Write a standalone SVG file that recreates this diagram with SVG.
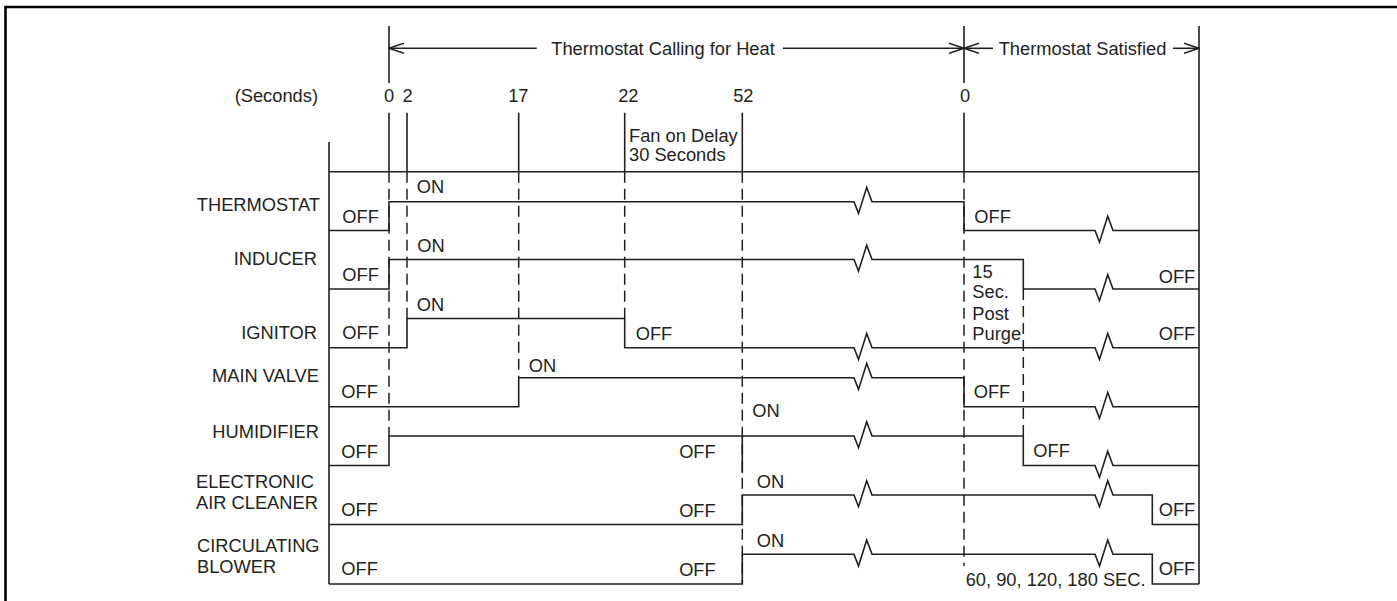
<svg xmlns="http://www.w3.org/2000/svg" width="1397" height="601" viewBox="0 0 1397 601">
<style>
text{font-family:"Liberation Sans",Arial,sans-serif;font-size:18.3px;fill:#231f20}
.e{text-anchor:end}.m{text-anchor:middle}
.w{fill:none;stroke:#231f20;stroke-width:1.6;stroke-linejoin:miter}
.s{stroke:#231f20;stroke-width:1.6;fill:none}
.d{stroke:#231f20;stroke-width:1.5;fill:none;stroke-dasharray:11 6}
</style>
<defs>
<marker id="arr" markerUnits="userSpaceOnUse" markerWidth="16" markerHeight="12" refX="15" refY="6" orient="auto">
<path d="M0,1 L15,6 L0,11" fill="none" stroke="#231f20" stroke-width="1.5"/>
</marker>
</defs>
<rect width="1397" height="601" fill="#fff"/>
<path d="M5.5,601 V7 H1397" fill="none" stroke="#000" stroke-width="2.6"/>

<g id="axes">
<path class="s" d="M329,142 V584 M329,171.7 H1199 M1199,26 V584"/>
<text class="e" x="318" y="101.5">(Seconds)</text>
<text class="m" x="389" y="101.5">0</text>
<text class="m" x="407.5" y="101.5">2</text>
<text class="m" x="518.3" y="101.5">17</text>
<text class="m" x="628.3" y="101.5">22</text>
<text class="m" x="743.3" y="101.5">52</text>
<text class="m" x="965" y="101.5">0</text>
<text x="629" y="141.7">Fan on Delay</text>
<text x="629" y="160.7">30 Seconds</text>
</g>

<g id="time-markers">
<path class="s" d="M389,26 V83 M389,112.7 V171.7 M407,112.7 V171.7 M518.7,112.7 V171.7 M624.7,112.7 V171.7 M742.3,112.7 V171.7 M964,26 V83 M964,112.7 V171.7 M742.3,436 V473"/>
<path class="d" d="M389,171.7 V436 M407,171.7 V318.5 M518.7,171.7 V377.7 M624.7,171.7 V318.5 M742.3,171.7 V584 M964,171.7 V566 M1023.3,289 V436"/>
</g>

<g id="connectors">
<line class="s" x1="536.7" y1="48.3" x2="389" y2="48.3" marker-end="url(#arr)"/>
<line class="s" x1="783" y1="48.3" x2="964" y2="48.3" marker-end="url(#arr)"/>
<line class="s" x1="993" y1="48.3" x2="964" y2="48.3" marker-end="url(#arr)"/>
<line class="s" x1="1173" y1="48.3" x2="1199" y2="48.3" marker-end="url(#arr)"/>
<text class="m" x="663" y="55">Thermostat Calling for Heat</text>
<text class="m" x="1082.5" y="55">Thermostat Satisfied</text>
</g>

<g id="thermostat">
<text class="e" x="320" y="211">THERMOSTAT</text>
<path class="w" d="M329,230.5 H389 V201.7 H854 l4.5,11.7 l8.2,-26 l5.3,14.3 H964 V230.5 H1095 l4.5,11.7 l8.2,-26 l5.3,14.3 H1199"/>
<text x="342.3" y="222.7">OFF</text>
<text x="416.7" y="193.3">ON</text>
<text x="974.3" y="222.7">OFF</text>
</g>

<g id="inducer">
<text class="e" x="317" y="265.3">INDUCER</text>
<path class="w" d="M329,289 H389 V259.5 H854 l4.5,11.7 l8.2,-26 l5.3,14.3 H1023.3 V289 H1095 l4.5,11.7 l8.2,-26 l5.3,14.3 H1199"/>
<text x="342.3" y="280.7">OFF</text>
<text x="417.3" y="251.7">ON</text>
<text class="e" x="1195.3" y="282.7">OFF</text>
<text x="972.3" y="277.7">15</text>
<text x="972.3" y="298.3">Sec.</text>
<text x="972.3" y="319.5">Post</text>
<text x="972.3" y="340">Purge</text>
</g>

<g id="ignitor">
<text class="e" x="317" y="339.3">IGNITOR</text>
<path class="w" d="M329,347.7 H407 V318.5 H624.7 V347.7 H854 l4.5,11.7 l8.2,-26 l5.3,14.3 H1095 l4.5,11.7 l8.2,-26 l5.3,14.3 H1199"/>
<text x="342.3" y="339.3">OFF</text>
<text x="416.7" y="311">ON</text>
<text x="635.7" y="340">OFF</text>
<text class="e" x="1195.3" y="340">OFF</text>
</g>

<g id="main-valve">
<text class="e" x="319" y="382.3">MAIN VALVE</text>
<path class="w" d="M329,406.7 H518.7 V377.7 H854 l4.5,11.7 l8.2,-26 l5.3,14.3 H964 V406.7 H1095 l4.5,11.7 l8.2,-26 l5.3,14.3 H1199"/>
<text x="341.3" y="398.3">OFF</text>
<text x="528.7" y="371.7">ON</text>
<text x="973.7" y="398.3">OFF</text>
</g>

<g id="humidifier">
<text class="e" x="319" y="438.3">HUMIDIFIER</text>
<path class="w" d="M329,465.5 H389 V436 H854 l4.5,11.7 l8.2,-26 l5.3,14.3 H1023.3 V465.5 H1095 l4.5,11.7 l8.2,-26 l5.3,14.3 H1199"/>
<text x="341.3" y="457.7">OFF</text>
<text class="e" x="715.7" y="458.3">OFF</text>
<text x="752.3" y="416.7">ON</text>
<text x="1033.3" y="456.7">OFF</text>
</g>

<g id="electronic-air-cleaner">
<text x="196" y="488.3">ELECTRONIC</text>
<text x="196" y="509">AIR CLEANER</text>
<path class="w" d="M329,524.5 H742.3 V495 H854 l4.5,11.7 l8.2,-26 l5.3,14.3 H1095 l4.5,11.7 l8.2,-26 l5.3,14.3 H1152.3 V524.5 H1199"/>
<text x="341.3" y="515.7">OFF</text>
<text class="e" x="715.7" y="516.7">OFF</text>
<text x="756.7" y="487.7">ON</text>
<text class="e" x="1195.3" y="516">OFF</text>
</g>

<g id="circulating-blower">
<text x="197" y="552.3">CIRCULATING</text>
<text x="197" y="572.7">BLOWER</text>
<path class="w" d="M329,584 H742.3 V554.3 H854 l4.5,11.7 l8.2,-26 l5.3,14.3 H1095 l4.5,11.7 l8.2,-26 l5.3,14.3 H1152.3 V584 H1199"/>
<text x="341.3" y="575">OFF</text>
<text class="e" x="715.7" y="576">OFF</text>
<text x="756.7" y="546.7">ON</text>
<text class="e" x="1195.3" y="575">OFF</text>
<text x="965.7" y="586">60, 90, 120, 180 SEC.</text>
</g>
</svg>
